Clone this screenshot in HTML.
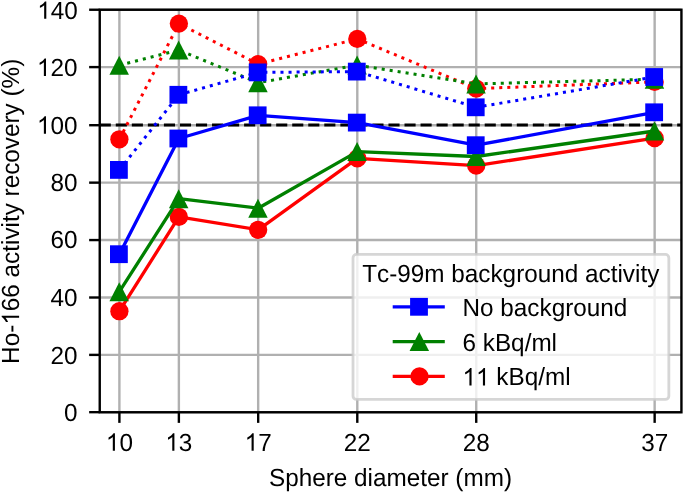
<!DOCTYPE html>
<html><head><meta charset="utf-8"><style>
html,body{margin:0;padding:0;background:#fff;}
svg{display:block;will-change:transform;}
.t{font-family:"Liberation Sans", sans-serif;font-size:24.3px;fill:#000;text-rendering:geometricPrecision;font-kerning:none;font-feature-settings:'kern' 0;}
.h{fill-opacity:0;}
</style></head><body>
<svg width="685" height="493" viewBox="0 0 685 493">
<rect width="685" height="493" fill="#fff"/>
<line x1="119.4" y1="9.74" x2="119.4" y2="412.27" stroke="#b0b0b0" stroke-width="2.4"/>
<line x1="178.87" y1="9.74" x2="178.87" y2="412.27" stroke="#b0b0b0" stroke-width="2.4"/>
<line x1="258.17" y1="9.74" x2="258.17" y2="412.27" stroke="#b0b0b0" stroke-width="2.4"/>
<line x1="357.29" y1="9.74" x2="357.29" y2="412.27" stroke="#b0b0b0" stroke-width="2.4"/>
<line x1="476.23" y1="9.74" x2="476.23" y2="412.27" stroke="#b0b0b0" stroke-width="2.4"/>
<line x1="654.65" y1="9.74" x2="654.65" y2="412.27" stroke="#b0b0b0" stroke-width="2.4"/>
<line x1="99.74" y1="412.17" x2="681.43" y2="412.17" stroke="#b0b0b0" stroke-width="2.4"/>
<line x1="99.74" y1="354.88" x2="681.43" y2="354.88" stroke="#b0b0b0" stroke-width="2.4"/>
<line x1="99.74" y1="297.51" x2="681.43" y2="297.51" stroke="#b0b0b0" stroke-width="2.4"/>
<line x1="99.74" y1="240.06" x2="681.43" y2="240.06" stroke="#b0b0b0" stroke-width="2.4"/>
<line x1="99.74" y1="182.64" x2="681.43" y2="182.64" stroke="#b0b0b0" stroke-width="2.4"/>
<line x1="99.74" y1="125.22" x2="681.43" y2="125.22" stroke="#b0b0b0" stroke-width="2.4"/>
<line x1="99.74" y1="67.1" x2="681.43" y2="67.1" stroke="#b0b0b0" stroke-width="2.4"/>
<line x1="99.74" y1="9.74" x2="681.43" y2="9.74" stroke="#b0b0b0" stroke-width="2.4"/>
<line x1="99.74" y1="125.05" x2="681.43" y2="125.05" stroke="#000" stroke-width="3" stroke-dasharray="11.1,4.94"/>
<polyline points="119.4,311.2 178.87,216.9 258.17,229.8 357.29,158.4 476.23,165.65 654.65,138.1" fill="none" stroke="#ff0000" stroke-width="3.3" stroke-linejoin="round"/>
<circle cx="119.4" cy="311.2" r="9.15" fill="#ff0000"/>
<circle cx="178.87" cy="216.9" r="9.15" fill="#ff0000"/>
<circle cx="258.17" cy="229.8" r="9.15" fill="#ff0000"/>
<circle cx="357.29" cy="158.4" r="9.15" fill="#ff0000"/>
<circle cx="476.23" cy="165.65" r="9.15" fill="#ff0000"/>
<circle cx="654.65" cy="138.1" r="9.15" fill="#ff0000"/>
<line x1="119.4" y1="139.3" x2="178.87" y2="23.6" stroke="#ff0000" stroke-width="3" stroke-dasharray="3.04,5.02" stroke-dashoffset="0"/>
<line x1="178.87" y1="23.6" x2="258.17" y2="64.1" stroke="#ff0000" stroke-width="3" stroke-dasharray="3.04,5.02" stroke-dashoffset="2.13"/>
<line x1="258.17" y1="64.1" x2="357.29" y2="38.9" stroke="#ff0000" stroke-width="3" stroke-dasharray="3.04,5.02" stroke-dashoffset="2.51"/>
<line x1="357.29" y1="38.9" x2="476.23" y2="88.6" stroke="#ff0000" stroke-width="3" stroke-dasharray="3.04,5.02" stroke-dashoffset="0.56"/>
<line x1="476.23" y1="88.6" x2="654.65" y2="81.9" stroke="#ff0000" stroke-width="3" stroke-dasharray="3.04,5.02" stroke-dashoffset="1.16"/>
<circle cx="119.4" cy="139.3" r="9.15" fill="#ff0000"/>
<circle cx="178.87" cy="23.6" r="9.15" fill="#ff0000"/>
<circle cx="258.17" cy="64.1" r="9.15" fill="#ff0000"/>
<circle cx="357.29" cy="38.9" r="9.15" fill="#ff0000"/>
<circle cx="476.23" cy="88.6" r="9.15" fill="#ff0000"/>
<circle cx="654.65" cy="81.9" r="9.15" fill="#ff0000"/>
<polyline points="119.4,291.7 178.87,198.7 258.17,208.2 357.29,151.6 476.23,156.5 654.65,131" fill="none" stroke="#008000" stroke-width="3.3" stroke-linejoin="round"/>
<polygon points="119.2,282.2 109.45,301.2 128.95,301.2" fill="#008000"/>
<polygon points="178.67,189.2 168.92,208.2 188.42,208.2" fill="#008000"/>
<polygon points="257.97,198.7 248.22,217.7 267.72,217.7" fill="#008000"/>
<polygon points="357.09,142.1 347.34,161.1 366.84,161.1" fill="#008000"/>
<polygon points="476.03,147 466.28,166 485.78,166" fill="#008000"/>
<polygon points="654.45,121.5 644.7,140.5 664.2,140.5" fill="#008000"/>
<line x1="119.4" y1="65.3" x2="178.87" y2="50.1" stroke="#008000" stroke-width="3" stroke-dasharray="3.04,5.02" stroke-dashoffset="0"/>
<line x1="178.87" y1="50.1" x2="258.17" y2="82.7" stroke="#008000" stroke-width="3" stroke-dasharray="3.04,5.02" stroke-dashoffset="5.96"/>
<line x1="258.17" y1="82.7" x2="357.29" y2="65.1" stroke="#008000" stroke-width="3" stroke-dasharray="3.04,5.02" stroke-dashoffset="3.04"/>
<line x1="357.29" y1="65.1" x2="476.23" y2="83.9" stroke="#008000" stroke-width="3" stroke-dasharray="3.04,5.02" stroke-dashoffset="7.54"/>
<line x1="476.23" y1="83.9" x2="654.65" y2="79.2" stroke="#008000" stroke-width="3" stroke-dasharray="3.04,5.02" stroke-dashoffset="7.71"/>
<polygon points="119.2,55.8 109.45,74.8 128.95,74.8" fill="#008000"/>
<polygon points="178.67,40.6 168.92,59.6 188.42,59.6" fill="#008000"/>
<polygon points="257.97,73.2 248.22,92.2 267.72,92.2" fill="#008000"/>
<polygon points="357.09,55.6 347.34,74.6 366.84,74.6" fill="#008000"/>
<polygon points="476.03,74.4 466.28,93.4 485.78,93.4" fill="#008000"/>
<polygon points="654.45,69.7 644.7,88.7 664.2,88.7" fill="#008000"/>
<polyline points="119.4,254.2 178.87,138.5 258.17,115.3 357.29,122.6 476.23,145.2 654.65,112.3" fill="none" stroke="#0000ff" stroke-width="3.3" stroke-linejoin="round"/>
<rect x="110" y="245.3" width="17.8" height="17.8" fill="#0000ff"/>
<rect x="169.47" y="129.6" width="17.8" height="17.8" fill="#0000ff"/>
<rect x="248.77" y="106.4" width="17.8" height="17.8" fill="#0000ff"/>
<rect x="347.89" y="113.7" width="17.8" height="17.8" fill="#0000ff"/>
<rect x="466.83" y="136.3" width="17.8" height="17.8" fill="#0000ff"/>
<rect x="645.25" y="103.4" width="17.8" height="17.8" fill="#0000ff"/>
<line x1="119.4" y1="169.9" x2="178.87" y2="94.8" stroke="#0000ff" stroke-width="3" stroke-dasharray="3.04,5.02" stroke-dashoffset="0"/>
<line x1="178.87" y1="94.8" x2="258.17" y2="72.4" stroke="#0000ff" stroke-width="3" stroke-dasharray="3.04,5.02" stroke-dashoffset="0.08"/>
<line x1="258.17" y1="72.4" x2="357.29" y2="71.6" stroke="#0000ff" stroke-width="3" stroke-dasharray="3.04,5.02" stroke-dashoffset="1.88"/>
<line x1="357.29" y1="71.6" x2="476.23" y2="107.3" stroke="#0000ff" stroke-width="3" stroke-dasharray="3.04,5.02" stroke-dashoffset="4.83"/>
<line x1="476.23" y1="107.3" x2="654.65" y2="77" stroke="#0000ff" stroke-width="3" stroke-dasharray="3.04,5.02" stroke-dashoffset="0.71"/>
<rect x="110" y="161" width="17.8" height="17.8" fill="#0000ff"/>
<rect x="169.47" y="85.9" width="17.8" height="17.8" fill="#0000ff"/>
<rect x="248.77" y="63.5" width="17.8" height="17.8" fill="#0000ff"/>
<rect x="347.89" y="62.7" width="17.8" height="17.8" fill="#0000ff"/>
<rect x="466.83" y="98.4" width="17.8" height="17.8" fill="#0000ff"/>
<rect x="645.25" y="68.1" width="17.8" height="17.8" fill="#0000ff"/>
<rect x="353" y="254.4" width="315.85" height="145.05" rx="3.5" ry="3.5" fill="#fff" fill-opacity="0.8" stroke="#cccccc" stroke-opacity="0.8" stroke-width="2.8"/>
<text id="t1" class="t" transform="translate(362.2,281.8) scale(1,1.0200)">Tc-99m background activity</text>
<line x1="392.7" y1="306.8" x2="444.8" y2="306.8" stroke="#0000ff" stroke-width="3.3"/>
<rect x="410.1" y="297.9" width="17.8" height="17.8" fill="#0000ff"/>
<text id="t2" class="t" transform="translate(462.5,315.8) scale(1,1.0200)">No background</text>
<line x1="392.7" y1="341.6" x2="444.8" y2="341.6" stroke="#008000" stroke-width="3.3"/>
<polygon points="419.3,332.1 409.55,351.1 429.05,351.1" fill="#008000"/>
<text id="t3" class="t" transform="translate(462.5,350.6) scale(1,1.0200)">6 kBq/ml</text>
<line x1="392.7" y1="376.4" x2="444.8" y2="376.4" stroke="#ff0000" stroke-width="3.3"/>
<circle cx="419.5" cy="376.4" r="9.15" fill="#ff0000"/>
<text id="t4" class="t" transform="translate(462.5,385.4) scale(1,1.0200)"><tspan class="h">1</tspan><tspan class="h">1</tspan> kBq/ml</text><path transform="translate(462.5,385.4) translate(0,0) scale(0.011865,-0.011865)" d="M763,0L583,0L583,1147Q518,1085 412,1023Q305,961 223,930L223,1104Q374,1175 487,1276Q600,1377 647,1466L763,1466Z"/><path transform="translate(462.5,385.4) translate(13.5,0) scale(0.011865,-0.011865)" d="M763,0L583,0L583,1147Q518,1085 412,1023Q305,961 223,930L223,1104Q374,1175 487,1276Q600,1377 647,1466L763,1466Z"/>
<rect x="99.74" y="9.74" width="581.69" height="402.53" fill="none" stroke="#000" stroke-width="2.4" stroke-linejoin="miter"/>
<line x1="119.4" y1="412.27" x2="119.4" y2="422.87" stroke="#000" stroke-width="2.4"/>
<text id="t5" class="t" transform="translate(119.4,450.7) scale(1,1.0200)" text-anchor="middle"><tspan class="h">1</tspan>0</text><path transform="translate(119.4,450.7) translate(-13.52,0) scale(0.011865,-0.011865)" d="M763,0L583,0L583,1147Q518,1085 412,1023Q305,961 223,930L223,1104Q374,1175 487,1276Q600,1377 647,1466L763,1466Z"/>
<line x1="178.87" y1="412.27" x2="178.87" y2="422.87" stroke="#000" stroke-width="2.4"/>
<text id="t6" class="t" transform="translate(178.87,450.7) scale(1,1.0200)" text-anchor="middle"><tspan class="h">1</tspan>3</text><path transform="translate(178.87,450.7) translate(-13.52,0) scale(0.011865,-0.011865)" d="M763,0L583,0L583,1147Q518,1085 412,1023Q305,961 223,930L223,1104Q374,1175 487,1276Q600,1377 647,1466L763,1466Z"/>
<line x1="258.17" y1="412.27" x2="258.17" y2="422.87" stroke="#000" stroke-width="2.4"/>
<text id="t7" class="t" transform="translate(258.17,450.7) scale(1,1.0200)" text-anchor="middle"><tspan class="h">1</tspan>7</text><path transform="translate(258.17,450.7) translate(-13.52,0) scale(0.011865,-0.011865)" d="M763,0L583,0L583,1147Q518,1085 412,1023Q305,961 223,930L223,1104Q374,1175 487,1276Q600,1377 647,1466L763,1466Z"/>
<line x1="357.29" y1="412.27" x2="357.29" y2="422.87" stroke="#000" stroke-width="2.4"/>
<text id="t8" class="t" transform="translate(357.29,450.7) scale(1,1.0200)" text-anchor="middle">22</text>
<line x1="476.23" y1="412.27" x2="476.23" y2="422.87" stroke="#000" stroke-width="2.4"/>
<text id="t9" class="t" transform="translate(476.23,450.7) scale(1,1.0200)" text-anchor="middle">28</text>
<line x1="654.65" y1="412.27" x2="654.65" y2="422.87" stroke="#000" stroke-width="2.4"/>
<text id="t10" class="t" transform="translate(654.65,450.7) scale(1,1.0200)" text-anchor="middle">37</text>
<line x1="89.14" y1="412.17" x2="99.74" y2="412.17" stroke="#000" stroke-width="2.4"/>
<text id="t11" class="t" transform="translate(77.5,420.92) scale(1,1.0200)" text-anchor="end">0</text>
<line x1="89.14" y1="354.88" x2="99.74" y2="354.88" stroke="#000" stroke-width="2.4"/>
<text id="t12" class="t" transform="translate(77.5,363.88) scale(1,1.0200)" text-anchor="end">20</text>
<line x1="89.14" y1="297.51" x2="99.74" y2="297.51" stroke="#000" stroke-width="2.4"/>
<text id="t13" class="t" transform="translate(77.5,305.71) scale(1,1.0200)" text-anchor="end">40</text>
<line x1="89.14" y1="240.06" x2="99.74" y2="240.06" stroke="#000" stroke-width="2.4"/>
<text id="t14" class="t" transform="translate(77.5,247.96) scale(1,1.0200)" text-anchor="end">60</text>
<line x1="89.14" y1="182.64" x2="99.74" y2="182.64" stroke="#000" stroke-width="2.4"/>
<text id="t15" class="t" transform="translate(77.5,191.14) scale(1,1.0200)" text-anchor="end">80</text>
<line x1="89.14" y1="125.22" x2="99.74" y2="125.22" stroke="#000" stroke-width="2.4"/>
<text id="t16" class="t" transform="translate(77.5,133.72) scale(1,1.0200)" text-anchor="end"><tspan class="h">1</tspan>00</text><path transform="translate(77.5,133.72) translate(-40.55,0) scale(0.011865,-0.011865)" d="M763,0L583,0L583,1147Q518,1085 412,1023Q305,961 223,930L223,1104Q374,1175 487,1276Q600,1377 647,1466L763,1466Z"/>
<line x1="89.14" y1="67.1" x2="99.74" y2="67.1" stroke="#000" stroke-width="2.4"/>
<text id="t17" class="t" transform="translate(77.5,75.9) scale(1,1.0200)" text-anchor="end"><tspan class="h">1</tspan>20</text><path transform="translate(77.5,75.9) translate(-40.55,0) scale(0.011865,-0.011865)" d="M763,0L583,0L583,1147Q518,1085 412,1023Q305,961 223,930L223,1104Q374,1175 487,1276Q600,1377 647,1466L763,1466Z"/>
<line x1="89.14" y1="9.74" x2="99.74" y2="9.74" stroke="#000" stroke-width="2.4"/>
<text id="t18" class="t" transform="translate(77.8,18.84) scale(1,1.0200)" text-anchor="end"><tspan class="h">1</tspan>40</text><path transform="translate(77.8,18.84) translate(-40.55,0) scale(0.011865,-0.011865)" d="M763,0L583,0L583,1147Q518,1085 412,1023Q305,961 223,930L223,1104Q374,1175 487,1276Q600,1377 647,1466L763,1466Z"/>
<text id="t19" class="t" transform="translate(390.5,485.8) scale(1,1.0200)" text-anchor="middle">Sphere diameter (mm)</text>
<text id="t20" class="t" transform="translate(19.1,211.3) rotate(-90) scale(1,1.0200)" text-anchor="middle">Ho-<tspan class="h">1</tspan>66 activity recovery (%)</text><path transform="translate(19.1,211.3) rotate(-90) translate(-113.44,0) scale(0.011865,-0.011865)" d="M763,0L583,0L583,1147Q518,1085 412,1023Q305,961 223,930L223,1104Q374,1175 487,1276Q600,1377 647,1466L763,1466Z"/>
</svg>
</body></html>
